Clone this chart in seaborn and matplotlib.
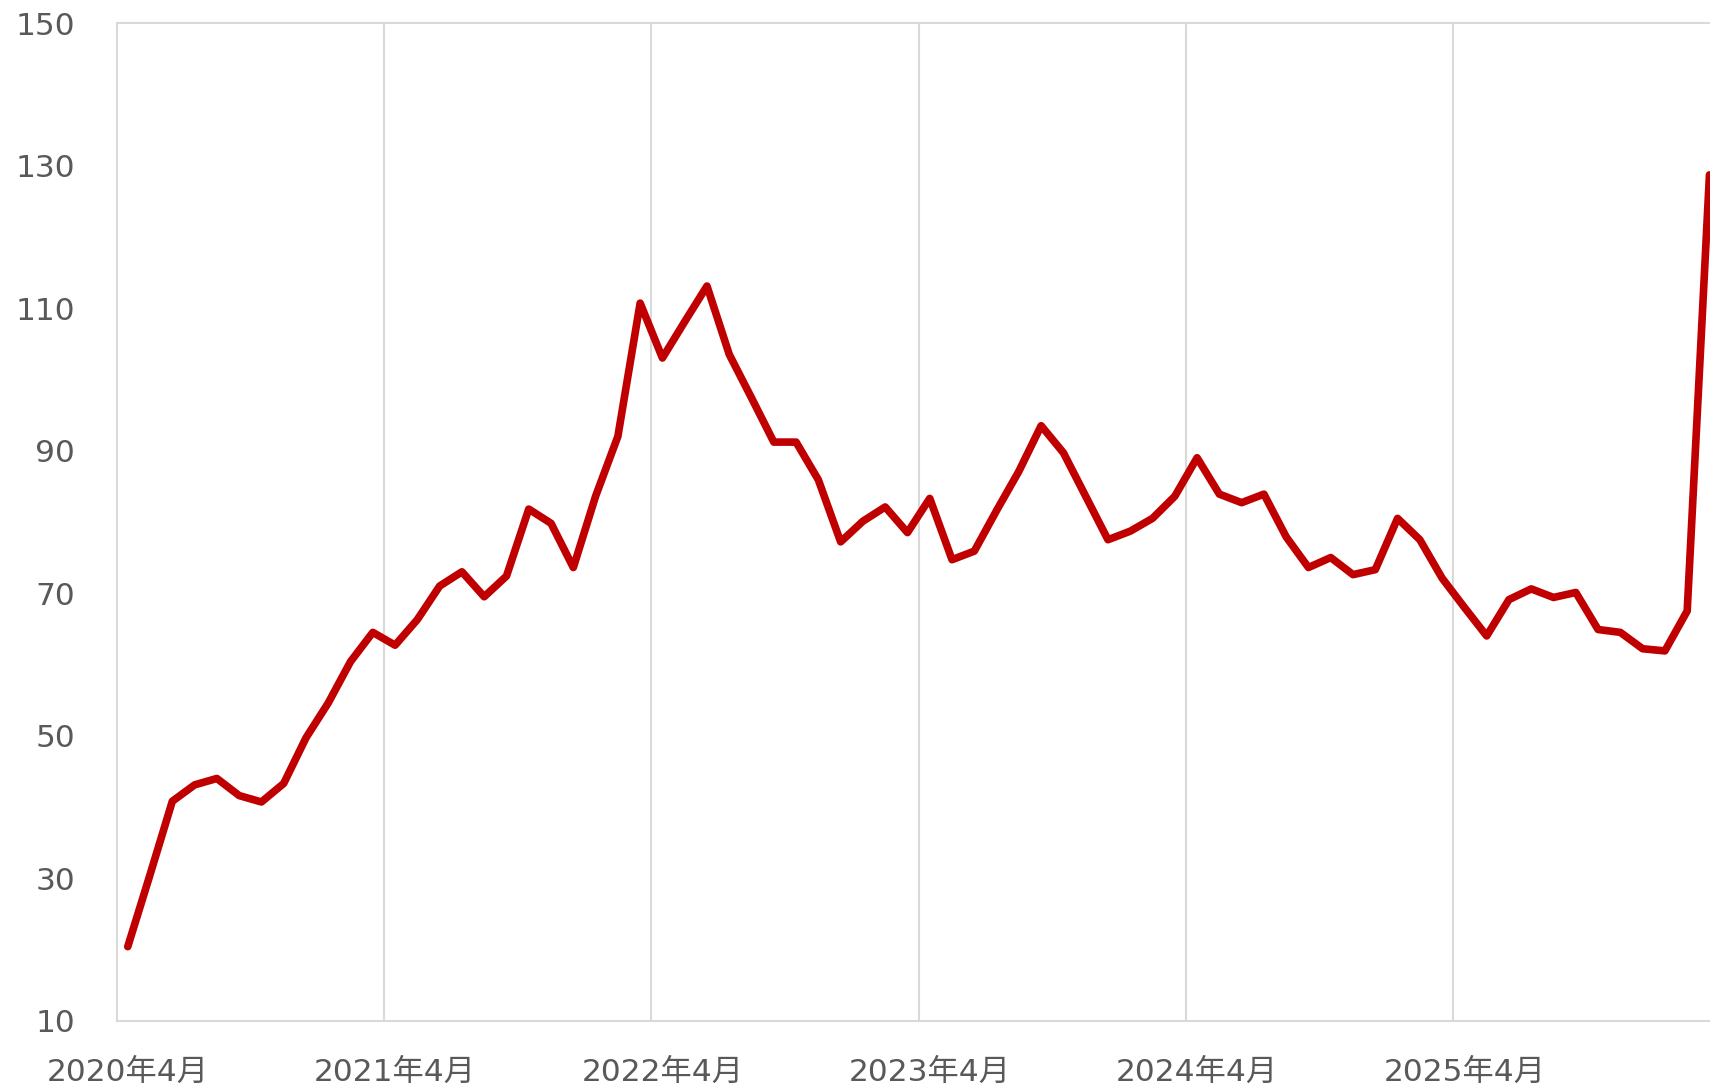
import matplotlib
matplotlib.use("Agg")
import matplotlib.pyplot as plt
from matplotlib.ticker import FixedLocator
import numpy as np
import pandas as pd
import seaborn as sns

# 月次データ（2020年4月〜2026年3月）
values = [
    20.4, 30.5, 40.8, 43.1, 44.0, 41.6, 40.7, 43.3, 49.7, 54.6, 60.4, 64.5,
    62.7, 66.3, 71.0, 73.0, 69.5, 72.4, 81.8, 79.8, 73.6, 83.6, 92.0, 110.7,
    103.0, 108.1, 113.1, 103.5, 97.4, 91.2, 91.2, 85.9, 77.2, 80.1, 82.1, 78.5,
    83.3, 74.7, 75.9, 81.6, 87.1, 93.5, 89.7, 83.6, 77.5, 78.7, 80.5, 83.6,
    89.0, 83.9, 82.7, 83.9, 77.9, 73.6, 75.0, 72.6, 73.3, 80.5, 77.5, 72.1,
    68.0, 64.0, 69.1, 70.6, 69.4, 70.1, 64.9, 64.5, 62.2, 61.9, 67.5, 128.7,
]
tick_labels = ["2020年4月", "2021年4月", "2022年4月", "2023年4月", "2024年4月", "2025年4月"]
y_ticks = [10, 30, 50, 70, 90, 110, 130, 150]

df = pd.DataFrame({"idx": np.arange(len(values)), "value": values})

sns.set_theme(style="white")
# 数字はDejaVu（Meiryo風の幅）、漢字はNotoにフォールバック
plt.rcParams["font.family"] = ["DejaVu Sans", "Noto Sans CJK JP"]

GRAY = "#d9d9d9"
TEXT = "#595959"
RED = "#c00000"

fig = plt.figure(figsize=(17.10, 10.88), dpi=100)
ax = fig.add_axes([0.0682, 0.0618, 0.938, 0.917])

sns.lineplot(data=df, x="idx", y="value", ax=ax, color=RED, linewidth=5.5,
             solid_capstyle="round", solid_joinstyle="round")

ax.set_xlim(-0.5, len(values) - 0.5)
ax.set_ylim(10, 150)

# ラベルは各年4月の中央、グリッドは区切り位置
ax.xaxis.set_major_locator(FixedLocator([12 * k for k in range(len(tick_labels))]))
ax.set_xticklabels(tick_labels)
ax.xaxis.set_minor_locator(FixedLocator([12 * k - 0.5 for k in range(1, len(tick_labels))]))
ax.grid(False)
ax.grid(True, which="minor", axis="x", color=GRAY, linewidth=1.5)
ax.set_yticks(y_ticks)

ax.tick_params(axis="both", which="both", length=0, colors=TEXT, labelsize=22.5)
ax.tick_params(axis="y", pad=30)
ax.tick_params(axis="x", pad=27)

for s in ax.spines.values():
    s.set_color(GRAY)
    s.set_linewidth(1.5)

ax.set_xlabel("")
ax.set_ylabel("")

plt.savefig("out.png", dpi=100)
plt.close()
